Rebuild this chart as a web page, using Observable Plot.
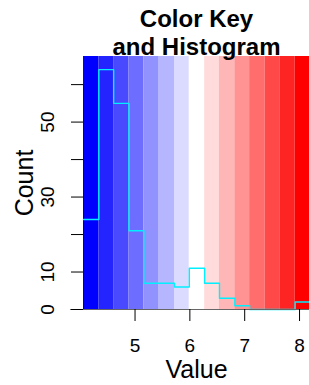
<!DOCTYPE html>
<html>
<head>
<meta charset="utf-8">
<script src="https://cdn.jsdelivr.net/npm/d3@7"></script>
<script src="https://cdn.jsdelivr.net/npm/@observablehq/plot@0.6"></script>
<style>
  html, body { margin: 0; padding: 0; background: #fff; }
  svg { display: block; }
</style>
</head>
<body>
<div id="chart"></div>
<script>
// Bin breaks of the color key (value axis)
const breaks = [4.06, 4.34, 4.61, 4.89, 5.16, 5.44, 5.72, 5.99, 6.27, 6.54, 6.82, 7.09, 7.37, 7.65, 7.92, 8.20];
// Histogram counts per bin
const counts = [24, 64, 55, 21, 7, 7, 6, 11, 7, 3, 1, 0, 0, 0, 2];
// Colors of the key (bluered, 15 steps)
const keyColors = ["#0000FF", "#2424FF", "#4949FF", "#6D6DFF", "#9292FF", "#B6B6FF", "#DBDBFF", "#FFFFFF",
                   "#FFDBDB", "#FFB6B6", "#FF9292", "#FF6D6D", "#FF4949", "#FF2424", "#FF0000"];
const xTicks = [5, 6, 7, 8];
const yTicks = [0, 10, 20, 30, 40, 50, 60];
const yLabels = [0, 10, 30, 50];
const titleLines = ["Color Key", "and Histogram"];
const xTitle = "Value";
const yTitle = "Count";

const bands = keyColors.map((c, i) => ({x1: breaks[i], x2: breaks[i + 1], color: c}));
const steps = breaks.map((b, i) => ({x: b, y: counts[Math.min(i, counts.length - 1)]}));

const yTop = 67.5;
const font = "'Liberation Sans', Arial, Helvetica, sans-serif";

const chart = Plot.plot({
  width: 309,
  height: 385,
  marginLeft: 83,
  marginRight: 0,
  marginTop: 56,
  marginBottom: 76,
  style: {fontFamily: font, background: "#fff", color: "#000"},
  x: {domain: [breaks[0], breaks[breaks.length - 1]], range: [83, 310]},
  y: {domain: [0, yTop], range: [309, 56]},
  color: {type: "identity"},
  marks: [
    Plot.rect(bands, {x1: "x1", x2: "x2", y1: 0, y2: yTop, fill: "color"}),
    Plot.ruleX([breaks[0]], {y1: 0, y2: 60, stroke: "#111", strokeWidth: 1}),
    Plot.line(steps, {x: "x", y: "y", curve: "step-after", stroke: "#00F0FF", strokeWidth: 1.4}),
    Plot.ruleY([0], {x1: breaks[0] - 13 / 55, x2: breaks[breaks.length - 1], stroke: "#666", strokeWidth: 1.2}),
    Plot.axisY(yTicks, {tickSize: 12, tickFormat: () => "", label: null, stroke: "#000"}),
    Plot.text(yLabels, {y: d => d, text: d => String(d), frameAnchor: "left", dx: -36, rotate: -90,
      textAnchor: "middle", lineAnchor: "middle", fontSize: 19, fill: "#000"}),
    Plot.axisX(xTicks, {tickSize: 12, tickPadding: 17, fontSize: 19, label: null, stroke: "#000"}),
    Plot.text([xTitle], {frameAnchor: "bottom", dy: 60, lineAnchor: "middle", fontSize: 25, fill: "#000"}),
    Plot.text([yTitle], {frameAnchor: "left", dx: -59, rotate: -90, textAnchor: "middle",
      lineAnchor: "middle", fontSize: 25, fill: "#000"}),
    Plot.text([titleLines[0]], {frameAnchor: "top", dy: -37, lineAnchor: "middle", fontSize: 24,
      fontWeight: "bold", fill: "#000"}),
    Plot.text([titleLines[1]], {frameAnchor: "top", dy: -9, lineAnchor: "middle", fontSize: 24,
      fontWeight: "bold", fill: "#000"})
  ]
});
document.getElementById("chart").append(chart);
</script>
</body>
</html>
